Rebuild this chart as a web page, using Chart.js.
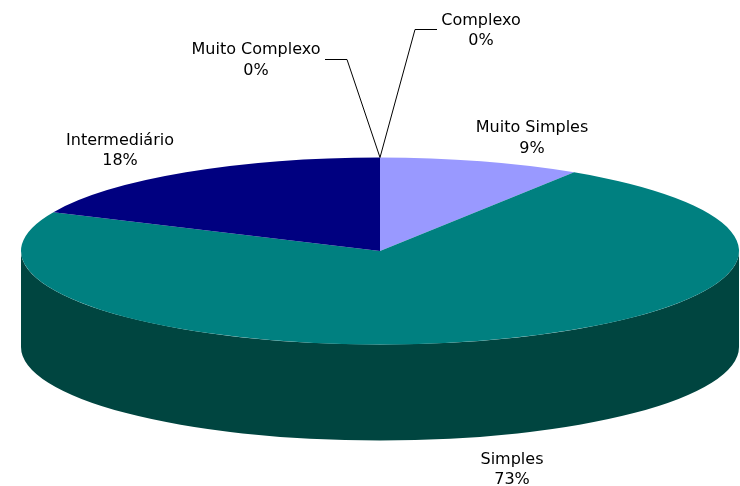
<!DOCTYPE html>
<html>
<head>
<meta charset="utf-8">
<script src="https://cdn.jsdelivr.net/npm/chart.js@4"></script>
<style>
  html, body { margin: 0; padding: 0; background: #fff; }
  #grafico { width: 740px; height: 486px; }
</style>
</head>
<body>
<div id="grafico"><canvas id="pizza" width="740" height="486"></canvas></div>
<script>
const categorias = ["Muito Simples", "Simples", "Intermediário", "Muito Complexo", "Complexo"];
const quantidades = [1, 8, 2, 0, 0];
const cores = ["#9999FF", "#008080", "#000080", "#993366", "#FFFFCC"];
const coresLateral = ["#4D4D80", "#004540", "#000040", "#4D1A33", "#808066"];

// posição dos rótulos (centro x, linhas de base) e linhas de chamada
const rotulos = [
    { x: 532, y: [132, 153] },
    { x: 512, y: [464, 484] },
    { x: 120, y: [145, 165] },
    { x: 256, y: [54, 75], chamada: [[347, 59.5], [325, 59.5]] },
    { x: 481, y: [25, 45], chamada: [[415, 29.5], [437, 29.5]] }
];

// tamanho da elipse do topo e altura da lateral
const elipse = { rx: 359, ry: 93.5, altura: 96 };

function transformar(ctx, arco) {
    const { x, y, outerRadius } = arco;
    ctx.translate(x, y);
    ctx.scale(elipse.rx / outerRadius, elipse.ry / outerRadius);
    ctx.translate(-x, -y);
}

function desenharLateral(chart) {
    const ctx = chart.ctx;
    const arcos = chart.getDatasetMeta(0).data;
    ctx.save();
    arcos.forEach((arco, i) => {
        // só a parte da frente (ângulos entre 0 e PI) aparece
        const a1 = Math.max(arco.startAngle, 0);
        const a2 = Math.min(arco.endAngle, Math.PI);
        if (a2 <= a1) return;
        ctx.beginPath();
        ctx.ellipse(arco.x, arco.y, elipse.rx, elipse.ry, 0, a1, a2);
        ctx.ellipse(arco.x, arco.y + elipse.altura, elipse.rx, elipse.ry, 0, a2, a1, true);
        ctx.closePath();
        ctx.fillStyle = coresLateral[i];
        ctx.fill();
    });
    ctx.restore();
}

function desenharRotulos(chart) {
    const ctx = chart.ctx;
    const arcos = chart.getDatasetMeta(0).data;
    const total = quantidades.reduce((a, b) => a + b, 0);
    ctx.save();
    ctx.font = '16px "DejaVu Sans"';
    ctx.fillStyle = "#000";
    ctx.strokeStyle = "#000";
    ctx.lineWidth = 1;
    ctx.textAlign = "center";
    arcos.forEach((arco, i) => {
        const r = rotulos[i];
        const pct = Math.round(quantidades[i] / total * 100) + "%";
        ctx.fillText(categorias[i], r.x, r.y[0]);
        ctx.fillText(pct, r.x, r.y[1]);
        if (r.chamada) {
            // ponto na borda da elipse no ângulo da fatia
            const a = (arco.startAngle + arco.endAngle) / 2;
            ctx.beginPath();
            ctx.moveTo(arco.x + elipse.rx * Math.cos(a), arco.y + elipse.ry * Math.sin(a));
            r.chamada.forEach(p => ctx.lineTo(p[0], p[1]));
            ctx.stroke();
        }
    });
    ctx.restore();
}

const pizza3d = {
    id: "pizza3d",
    beforeDatasetsDraw(chart) {
        desenharLateral(chart);
        // topo: o próprio Chart.js desenha, achatado
        chart.ctx.save();
        transformar(chart.ctx, chart.getDatasetMeta(0).data[0]);
    },
    afterDatasetsDraw(chart) {
        chart.ctx.restore();
        desenharRotulos(chart);
    }
};

new Chart(document.getElementById("pizza"), {
    type: "pie",
    data: {
        labels: categorias,
        datasets: [{
            data: quantidades,
            backgroundColor: cores,
            borderWidth: 0,
            clip: false
        }]
    },
    options: {
        responsive: false,
        animation: false,
        events: [],
        layout: { padding: { left: 20, top: 16 } },
        plugins: {
            legend: { display: false },
            tooltip: { enabled: false }
        }
    },
    plugins: [pizza3d]
});
</script>
</body>
</html>
